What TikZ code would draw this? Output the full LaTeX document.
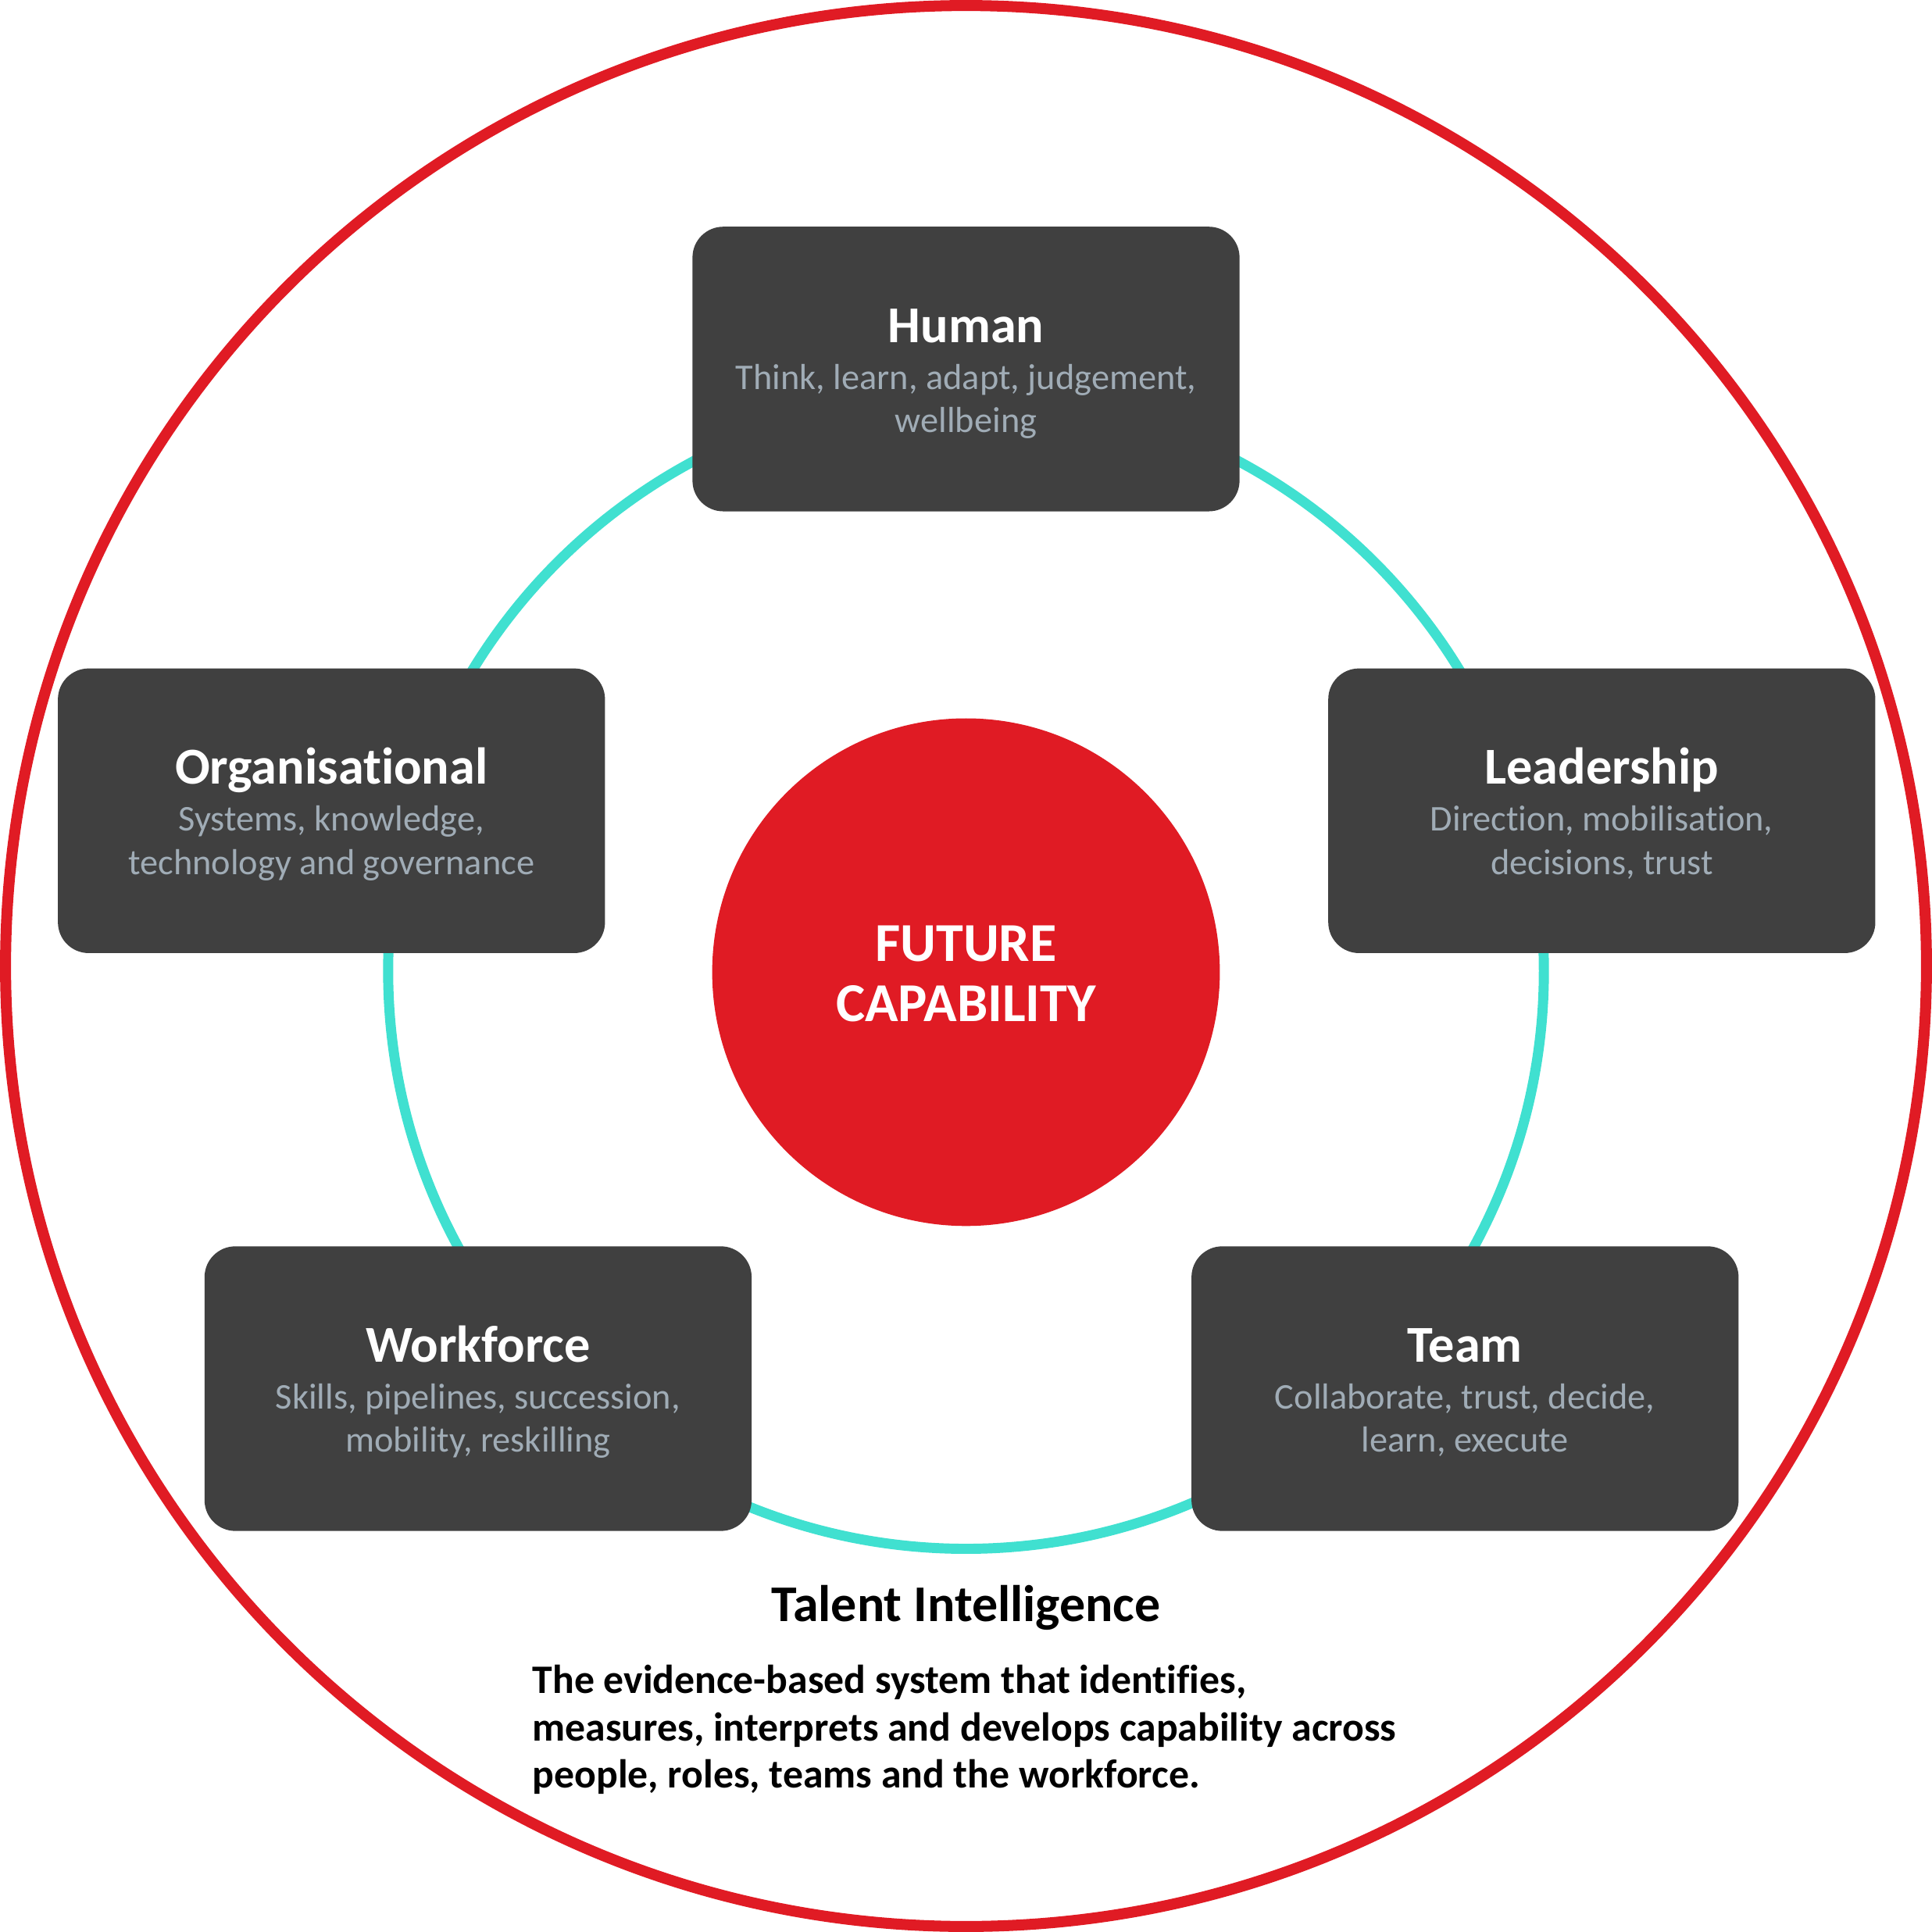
\documentclass[tikz,border=0pt]{standalone}
\usepackage{fontspec}
\setmainfont[Ligatures=NoCommon]{Carlito}
\definecolor{ringred}{RGB}{224,27,36}
\definecolor{ringcyan}{RGB}{64,224,208}
\definecolor{boxgray}{RGB}{64,64,64}
\definecolor{subgray}{RGB}{160,172,182}
\tikzset{
  cardbox/.style={fill=boxgray, draw=none, rounded corners=25pt, minimum width=444pt, minimum height=231pt, inner sep=0pt},
  cardtitle/.style={anchor=base, text=white, font=\fontsize{42}{50}\selectfont\bfseries, inner sep=0pt},
  cardsub/.style={anchor=base, text=subgray, font=\fontsize{29.4}{35}\selectfont, inner sep=0pt},
  coretext/.style={anchor=base, text=white, font=\fontsize{44.5}{49}\selectfont\bfseries, inner sep=0pt},
  paratext/.style={anchor=base west, text=black, font=\fontsize{32.8}{39}\selectfont\bfseries, inner sep=0pt}
}
\begin{document}
\begin{tikzpicture}[x=1pt,y=-1pt]
\useasboundingbox (0,0) rectangle (1568,1568);
% cyan ring
\draw[ringcyan, line width=8.2pt] (784,788) circle[radius=469];
% outer red ring
\draw[ringred, line width=8.9pt] (784,784) circle[radius=779.5];
% core
\node[circle, fill=ringred, minimum size=412pt, inner sep=0pt] (core) at (784,789) {};
\node[coretext] (core1) at (784,780) {FUTURE};
\node[coretext] (core2) at (784,829) {CAPABILITY};
% boxes
\node[cardbox] (human) at (784,299.5) {};
\node[cardbox] (lead) at (1300,658) {};
\node[cardbox] (org) at (269,658) {};
\node[cardbox] (work) at (388,1127) {};
\node[cardbox] (team) at (1189,1127) {};
% box texts
\node[cardtitle] (humanT) at ([yshift=21.5pt]human.center) {Human};
\node[cardsub] (humanS1) at ([yshift=-16.5pt]human.center) {Think, learn, adapt, judgement,};
\node[cardsub] (humanS2) at ([yshift=-51.5pt]human.center) {wellbeing};
\node[cardtitle] (leadT) at ([yshift=21.5pt]lead.center) {Leadership};
\node[cardsub] (leadS1) at ([yshift=-16.5pt]lead.center) {Direction, mobilisation,};
\node[cardsub] (leadS2) at ([yshift=-51.5pt]lead.center) {decisions, trust};
\node[cardtitle] (orgT) at ([yshift=21.5pt]org.center) {Organisational};
\node[cardsub] (orgS1) at ([yshift=-16.5pt]org.center) {Systems, knowledge,};
\node[cardsub] (orgS2) at ([yshift=-51.5pt]org.center) {technology and governance};
\node[cardtitle] (workT) at ([yshift=21.5pt]work.center) {Workforce};
\node[cardsub] (workS1) at ([yshift=-16.5pt]work.center) {Skills, pipelines, succession,};
\node[cardsub] (workS2) at ([yshift=-51.5pt]work.center) {mobility, reskilling};
\node[cardtitle] (teamT) at ([yshift=21.5pt]team.center) {Team};
\node[cardsub] (teamS1) at ([yshift=-16.5pt]team.center) {Collaborate, trust, decide,};
\node[cardsub] (teamS2) at ([yshift=-51.5pt]team.center) {learn, execute};
% bottom text
\node[anchor=base, text=black, font=\fontsize{41.8}{50}\selectfont\bfseries, inner sep=0pt] (ti) at (784,1316) {Talent Intelligence};
\node[paratext] (p1) at (432,1374) {The evidence-based system that identifies,};
\node[paratext] (p2) at (432,1413) {measures, interprets and develops capability across};
\node[paratext] (p3) at (432,1451) {people, roles, teams and the workforce.};
\end{tikzpicture}
\end{document}
